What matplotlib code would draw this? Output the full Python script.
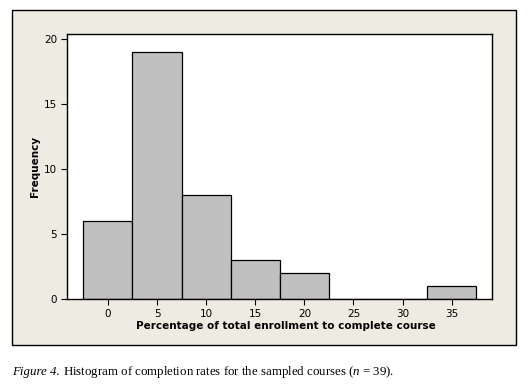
import matplotlib.pyplot as plt
from matplotlib.patches import Rectangle

# bin midpoints (percent) and number of courses in each bin
bin_mids = [0, 5, 10, 15, 20, 25, 30, 35]
counts = [6, 19, 8, 3, 2, 0, 0, 1]
x_ticks = [0, 5, 10, 15, 20, 25, 30, 35]
y_ticks = [0, 5, 10, 15, 20]

plt.rcParams['mathtext.fontset'] = 'custom'
plt.rcParams['mathtext.it'] = 'Liberation Serif:italic'
plt.rcParams['mathtext.rm'] = 'Liberation Serif'

fig = plt.figure(figsize=(5.3, 3.86), dpi=100)
fig.patch.set_facecolor('white')

# beige panel behind the plot, like the Minitab export
bg = fig.add_axes([0, 0, 1, 1], zorder=0)
bg.axis('off')
bg.set_xlim(0, 530)
bg.set_ylim(386, 0)
bg.add_patch(Rectangle((12, 10), 504, 335, facecolor='#EEEBE2',
                       edgecolor='black', linewidth=1.0))

ax = fig.add_axes([0.1258, 0.2254, 0.8025, 0.6865], zorder=1)
ax.set_facecolor('white')
ax.bar(bin_mids, counts, width=5, color='#C0C0C0', edgecolor='black', linewidth=0.9)

ax.set_xlim(-4.2, 39.1)
ax.set_ylim(0, 20.38)
ax.set_xticks(x_ticks)
ax.set_yticks(y_ticks)
ax.tick_params(labelsize=7.5, length=4, width=0.8, direction='out', pad=3)
for s in ax.spines.values():
    s.set_linewidth(1.0)

ax.set_xlabel('Percentage of total enrollment to complete course',
              fontsize=7.5, fontweight='bold')
ax.xaxis.set_label_coords(0.515, -0.082)
ax.set_ylabel('Frequency', fontsize=7.5, fontweight='bold', labelpad=3)

cap_y = 1 - 372 / 386
fig.text(12 / 530, cap_y, 'Figure 4.', fontsize=9.3, style='italic',
         family='Liberation Serif', va='center', ha='left')
fig.text(63 / 530, cap_y,
         'Histogram of completion rates for the sampled courses ($n$ = 39).',
         fontsize=9.3, family='Liberation Serif', va='center', ha='left')

fig.savefig('out.png', dpi=100)
